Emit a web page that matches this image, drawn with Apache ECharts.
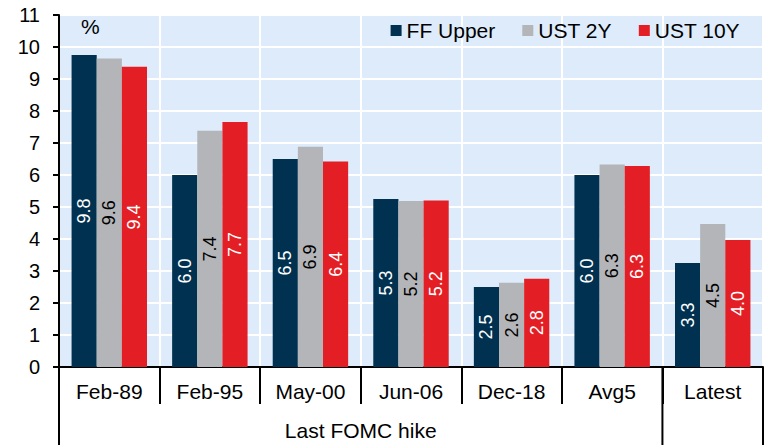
<!DOCTYPE html>
<html>
<head>
<meta charset="utf-8">
<script src="https://cdn.jsdelivr.net/npm/echarts@6/dist/echarts.min.js"></script>
<style>
  html, body { margin: 0; padding: 0; background: #fff; }
  #main { width: 767px; height: 445px; }
</style>
</head>
<body>
<div id="main"></div>
<script type="text/javascript">
  // 数据
  var categories = ['Feb-89', 'Feb-95', 'May-00', 'Jun-06', 'Dec-18', 'Avg5', 'Latest'];
  var ffUpper = [9.75, 6.0, 6.5, 5.25, 2.5, 6.0, 3.25];
  var ust2y = [9.64, 7.38, 6.88, 5.19, 2.63, 6.33, 4.47];
  var ust10y = [9.38, 7.66, 6.42, 5.2, 2.76, 6.28, 3.97];
  var yTicks = [0, 11, 1]; // min, max, interval
  var groupLabel = 'Last FOMC hike';

  var font = 'Liberation Sans, Arial, sans-serif';
  var chart = echarts.init(document.getElementById('main'), null, { renderer: 'svg' });

  function barLabel(color) {
    return {
      show: true,
      position: 'inside',
      rotate: 90,
      color: color,
      fontSize: 18,
      fontFamily: font,
      formatter: function (p) { return p.value.toFixed(1); }
    };
  }

  chart.setOption({
    animation: false,
    textStyle: { fontFamily: font },
    title: {
      text: '%',
      left: 76,
      top: 11,
      textStyle: { fontSize: 21, fontWeight: 'normal', color: '#000', fontFamily: font }
    },
    legend: {
      data: ['FF Upper', 'UST 2Y', 'UST 10Y'],
      right: 22,
      top: 15,
      itemWidth: 11,
      itemHeight: 11,
      itemGap: 27,
      icon: 'rect',
      textStyle: { fontSize: 21, color: '#000', fontFamily: font }
    },
    grid: {
      left: 59, right: 4, top: 15, bottom: 78,
      show: true, backgroundColor: '#DDEBFB', borderWidth: 0
    },
    xAxis: {
      type: 'category',
      data: categories,
      axisLine: { lineStyle: { color: '#000', width: 2 } },
      axisTick: { show: true, interval: 0, length: 37, lineStyle: { color: '#000', width: 2 } },
      axisLabel: { interval: 0, color: '#000', fontSize: 21, margin: 14, fontFamily: font },
      splitLine: { show: true, interval: 0, lineStyle: { color: '#fff', width: 2 } }
    },
    yAxis: {
      type: 'value',
      min: yTicks[0],
      max: yTicks[1],
      interval: yTicks[2],
      axisLine: { show: true, lineStyle: { color: '#000', width: 2 } },
      axisTick: { show: true, length: 6, lineStyle: { color: '#000', width: 2 } },
      axisLabel: { color: '#000', fontSize: 20, margin: 19, fontFamily: font },
      splitLine: { lineStyle: { color: '#fff', width: 2 } }
    },
    series: [
      { name: 'FF Upper', type: 'bar', data: ffUpper, barGap: '0%', barCategoryGap: '25%',
        itemStyle: { color: '#003150' }, label: barLabel('#fff') },
      { name: 'UST 2Y', type: 'bar', data: ust2y,
        itemStyle: { color: '#B4B5B8' }, label: barLabel('#000') },
      { name: 'UST 10Y', type: 'bar', data: ust10y,
        itemStyle: { color: '#E31E24' }, label: barLabel('#fff') }
    ]
  });

  // 分组线和分组标签
  var c0 = chart.convertToPixel({ xAxisIndex: 0 }, categories[0]);
  var c1 = chart.convertToPixel({ xAxisIndex: 0 }, categories[1]);
  var w = c1 - c0;
  var axisY = chart.convertToPixel({ yAxisIndex: 0 }, 0);
  var edges = [0, 6, 7].map(function (i) { return c0 - w / 2 + i * w; });
  var lines = edges.map(function (x) {
    return { type: 'line', shape: { x1: x, y1: axisY, x2: x, y2: 445 },
      style: { stroke: '#000', lineWidth: 2 } };
  });
  lines.push({
    type: 'text',
    x: (edges[0] + edges[1]) / 2,
    y: 430,
    style: { text: groupLabel, fill: '#000', font: '21px ' + font, align: 'center', verticalAlign: 'middle' }
  });
  chart.setOption({ graphic: lines });
</script>
</body>
</html>
